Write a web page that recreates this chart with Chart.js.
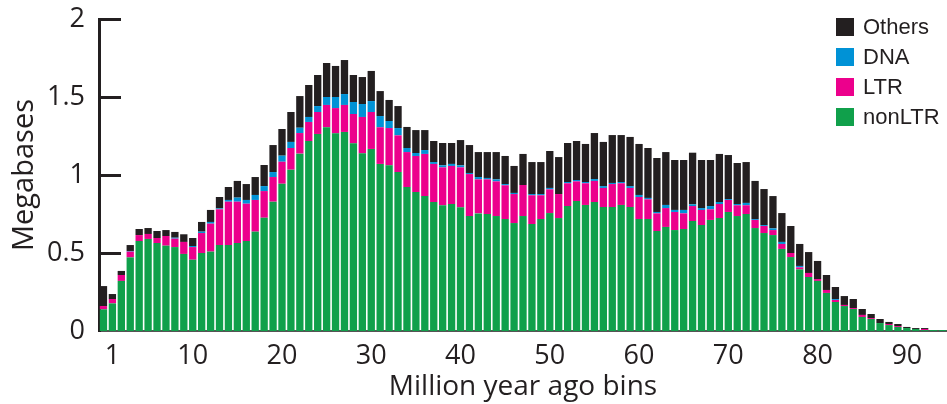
<!DOCTYPE html>
<html>
<head>
<meta charset="utf-8">
<script src="https://cdn.jsdelivr.net/npm/chart.js@4.4.0/dist/chart.umd.min.js"></script>
<style>
  html, body { margin: 0; padding: 0; background: #fff; }
  #wrap { width: 947px; height: 404px; }
</style>
</head>
<body>
<div id="wrap"><canvas id="chart" width="947" height="404"></canvas></div>
<script>
// ── data (Megabases per 1 Myr bin) ──
const bins = Array.from({ length: 95 }, (_, i) => i);
const xTickLabels = [1, 10, 20, 30, 40, 50, 60, 70, 80, 90];
const yTicks = [0, 0.5, 1, 1.5, 2];

const nonLTR = [.139,.177,.321,.472,.577,.590,.564,.547,.538,.494,
  .457,.500,.509,.551,.551,.564,.577,.637,.726,.829,
  .944,1.034,1.137,1.218,1.263,1.306,1.267,1.276,1.203,1.139,
  1.167,1.071,1.062,1.019,.923,.891,.865,.827,.806,.814,
  .793,.737,.754,.750,.737,.718,.692,.737,.686,.718,
  .756,.724,.801,.833,.808,.827,.795,.795,.808,.795,
  .718,.718,.641,.667,.647,.654,.705,.679,.712,.724,
  .763,.737,.750,.660,.628,.615,.526,.474,.395,.346,
  .321,.244,.186,.160,.141,.090,.077,.051,.038,.026,
  .019,.013,.006,.006,.006];

const LTR = [.021,.028,.038,.037,.038,.032,.032,.062,.054,.077,
  .081,.128,.179,.229,.278,.265,.239,.203,.171,.158,
  .141,.139,.132,.122,.141,.143,.162,.173,.188,.233,
  .237,.235,.239,.235,.224,.231,.270,.244,.243,.244,
  .256,.269,.218,.222,.222,.216,.186,.199,.184,.152,
  .152,.154,.146,.126,.139,.135,.122,.147,.139,.122,
  .141,.126,.113,.121,.116,.100,.096,.097,.068,.090,
  .077,.069,.056,.052,.045,.032,.032,.026,.013,.026,
  .012,.019,.013,.007,.006,.013,.006,0,.007,.006,
  0,0,.007,0,0];

const DNA = [0,0,0,.004,0,0,0,0,.006,0,
  .007,.009,.011,.006,.011,.026,.024,.032,.032,.032,
  .039,.039,.034,.032,.038,.051,.071,.070,.077,.083,
  .070,.072,.045,.047,.026,.019,.025,.012,.013,.013,
  .013,.007,.015,.009,.013,.008,.007,0,.008,.008,
  .009,0,.008,.009,.008,.012,.012,.007,.008,.012,
  .013,.009,.009,.020,.013,.022,.011,.012,.021,.013,
  .006,.008,.015,.006,.006,.011,.013,0,.009,0,
  0,0,.006,0,0,0,0,0,0,0,
  0,0,0,0,0];

const Others = [.128,.032,.026,.038,.039,.038,.045,.038,.037,.049,
  .051,.062,.077,.073,.083,.107,.102,.115,.135,.173,
  .171,.192,.203,.205,.199,.218,.199,.218,.173,.173,
  .193,.160,.135,.141,.135,.147,.128,.135,.143,.134,
  .162,.179,.160,.166,.175,.180,.173,.199,.205,.205,
  .237,.237,.250,.250,.244,.295,.283,.307,.301,.315,
  .327,.320,.346,.339,.320,.320,.331,.308,.295,.308,
  .282,.263,.262,.244,.231,.207,.185,.173,.141,.134,
  .116,.096,.077,.057,.058,.038,.026,.026,.013,.013,
  .007,.006,.006,0,0];

const INK = '#231f20';
const FONT = '"Open Sans", sans-serif';

// y ticks point inward + legend stacked top-right (reverse of stack order)
const overlay = {
  id: 'overlay',
  afterDraw(chart) {
    const { ctx, chartArea } = chart;
    const yScale = chart.scales.y;
    ctx.save();
    ctx.fillStyle = INK;
    yTicks.forEach(v => {
      if (v === 0) return;
      const y = Math.round(yScale.getPixelForValue(v));
      ctx.fillRect(chartArea.left, y - 1, 22, 3);
    });

    const items = chart.data.datasets.slice().reverse();
    ctx.font = '22px "Liberation Sans", Arial, sans-serif';
    ctx.textBaseline = 'middle';
    ctx.textAlign = 'left';
    items.forEach((ds, i) => {
      const cy = 27 + i * 30;
      ctx.fillStyle = ds.backgroundColor;
      ctx.fillRect(836, cy - 9, 18, 18);
      ctx.fillStyle = INK;
      ctx.fillText(ds.label, 863, cy + 1);
    });
    ctx.restore();
  }
};

const bar = { barPercentage: 0.82, categoryPercentage: 1.0, borderWidth: 0 };

new Chart(document.getElementById('chart'), {
  type: 'bar',
  data: {
    labels: bins,
    datasets: [
      { label: 'nonLTR', data: nonLTR, backgroundColor: '#10a04b', ...bar },
      { label: 'LTR', data: LTR, backgroundColor: '#ec008c', ...bar },
      { label: 'DNA', data: DNA, backgroundColor: '#0092d6', ...bar },
      { label: 'Others', data: Others, backgroundColor: INK, ...bar }
    ]
  },
  options: {
    responsive: false,
    animation: false,
    layout: { padding: 0 },
    plugins: { legend: { display: false }, tooltip: { enabled: false } },
    scales: {
      x: {
        stacked: true,
        grid: { display: false },
        border: { display: true, color: '#555', width: 2 },
        ticks: {
          autoSkip: false,
          maxRotation: 0,
          padding: 1,
          color: INK,
          font: { family: FONT, size: 27 },
          callback: (v, i) => xTickLabels.includes(bins[i]) ? String(bins[i]) : ''
        },
        title: {
          display: true,
          text: 'Million year ago bins',
          color: INK,
          font: { family: FONT, size: 28 },
          padding: { top: 0, bottom: 0 }
        },
        afterFit: s => { s.height = 73; s.paddingLeft = 0; s.paddingRight = 0; }
      },
      y: {
        stacked: true,
        min: 0,
        max: 2,
        grid: { display: false, drawTicks: false },
        border: { display: true, color: INK, width: 3 },
        ticks: {
          stepSize: 0.5,
          padding: 14,
          color: INK,
          font: { family: FONT, size: 27 },
          callback: v => String(v)
        },
        title: {
          display: true,
          text: 'Megabases',
          color: INK,
          font: { family: FONT, size: 29 },
          padding: { top: 7, bottom: 0 }
        },
        afterFit: s => { s.width = 99; s.paddingTop = 19; s.paddingBottom = 0; }
      }
    }
  },
  plugins: [overlay]
});
</script>
</body>
</html>
